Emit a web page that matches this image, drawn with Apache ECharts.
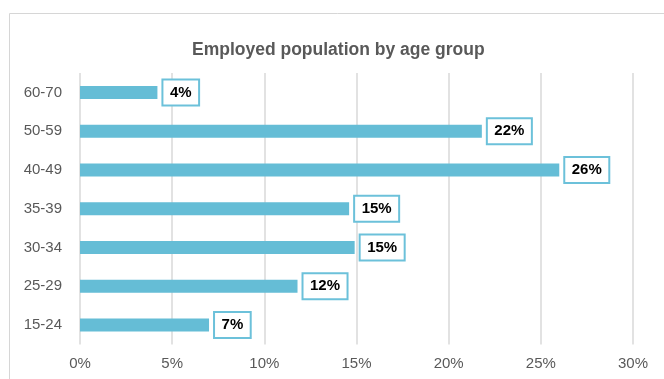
<!DOCTYPE html>
<html>
<head>
<meta charset="utf-8">
<title>Employed population by age group</title>
<script src="https://cdn.jsdelivr.net/npm/echarts@6/dist/echarts.min.js"></script>
<style>
  html, body { margin: 0; padding: 0; background: #ffffff; }
  #chart { width: 664px; height: 379px; }
</style>
</head>
<body>
<div id="chart"></div>
<script>
// Age groups, bottom to top on the category axis
const ageGroups = ['15-24', '25-29', '30-34', '35-39', '40-49', '50-59', '60-70'];
// Share of employed population in each age group (%)
const sharePct = [7.0, 11.8, 14.9, 14.6, 26.0, 21.8, 4.2];
// Value axis ticks (%)
const axisMin = 0;
const axisMax = 30;
const axisStep = 5;

const titleText = 'Employed population by age group';
const textGray = '#595959';
const barBlue = '#65BDD6';
const boxBlue = '#6CC1DA';
const gridGray = '#D9D9D9';
const fontFamily = '"Liberation Sans", Arial, sans-serif';

const chart = echarts.init(document.getElementById('chart'), null, { renderer: 'canvas' });

chart.setOption({
  backgroundColor: '#ffffff',
  animation: false,
  graphic: [{
    type: 'rect',
    shape: { x: 9.5, y: 13.5, width: 700, height: 400 },
    style: { fill: 'none', stroke: '#D6D6D6', lineWidth: 1 },
    silent: true,
    z: -1
  }],
  title: {
    text: titleText,
    left: 187,
    top: 36,
    textStyle: {
      color: textGray,
      fontFamily: fontFamily,
      fontWeight: 'bold',
      fontSize: 17.5
    }
  },
  grid: {
    left: 80,
    right: 31,
    top: 73,
    bottom: 34.5,
    containLabel: false
  },
  xAxis: {
    type: 'value',
    min: axisMin,
    max: axisMax,
    interval: axisStep,
    axisLine: { show: false },
    axisTick: { show: false },
    axisLabel: {
      color: textGray,
      fontFamily: fontFamily,
      fontSize: 15,
      margin: 12,
      formatter: v => v + '%'
    },
    splitLine: {
      show: true,
      lineStyle: { color: gridGray, width: 1.5 }
    }
  },
  yAxis: {
    type: 'category',
    data: ageGroups,
    axisLine: { show: false },
    axisTick: { show: false },
    axisLabel: {
      color: textGray,
      fontFamily: fontFamily,
      fontSize: 15,
      margin: 18
    },
    splitLine: { show: false }
  },
  series: [{
    type: 'bar',
    data: sharePct,
    barWidth: 13,
    itemStyle: { color: barBlue },
    label: {
      show: true,
      position: 'right',
      distance: 6,
      formatter: p => Math.round(p.value) + '%',
      color: '#000000',
      fontFamily: fontFamily,
      fontWeight: 'bold',
      fontSize: 15,
      lineHeight: 16,
      backgroundColor: '#ffffff',
      borderColor: boxBlue,
      borderWidth: 2,
      padding: [4, 6.5, 4, 6.5]
    }
  }]
});
</script>
</body>
</html>
